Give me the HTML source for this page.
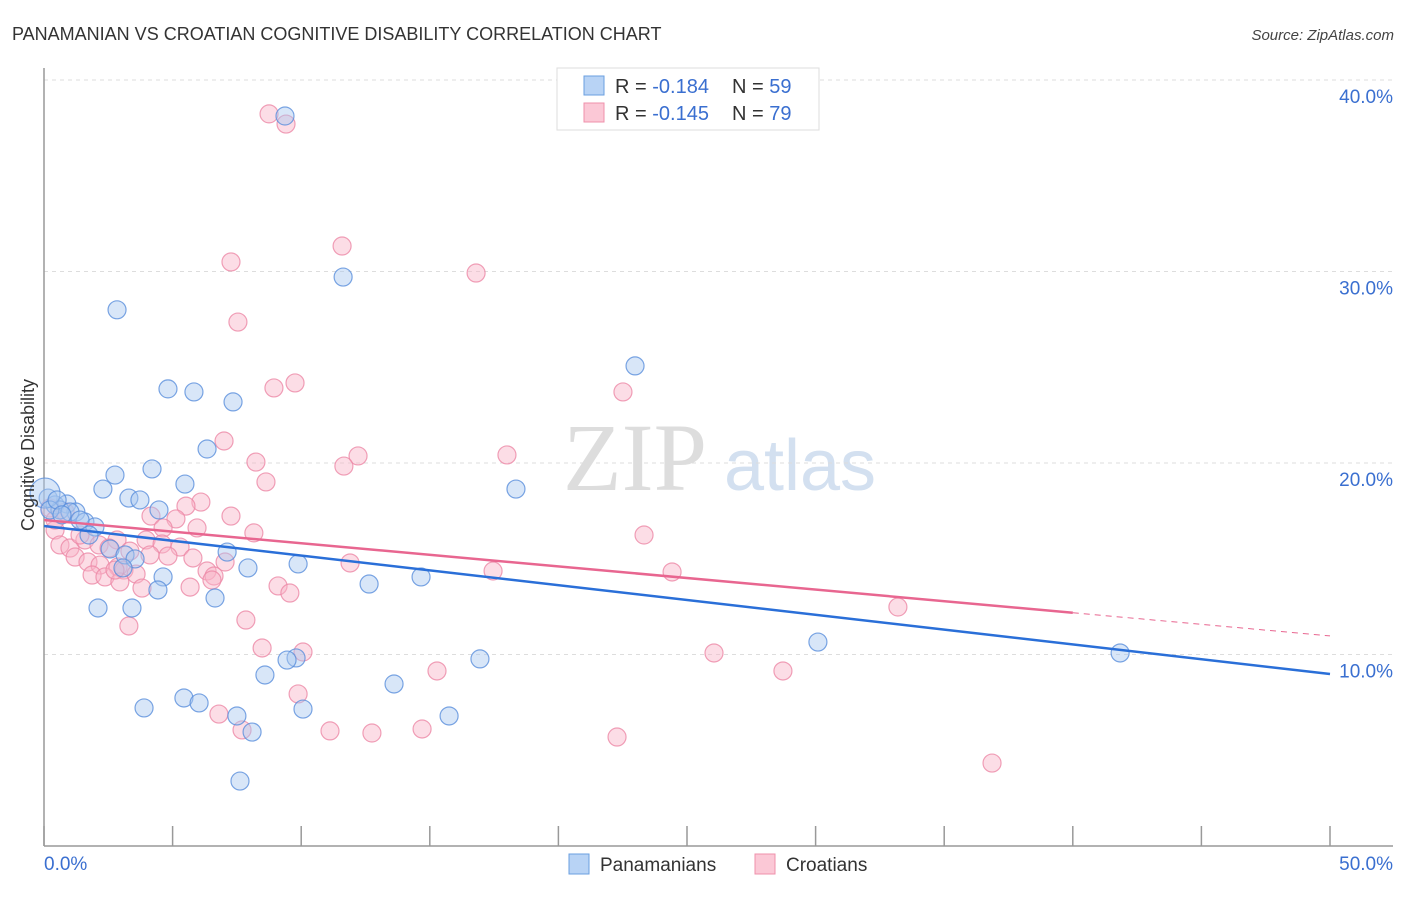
<!DOCTYPE html>
<html><head><meta charset="utf-8"><style>
body{margin:0;background:#fff;font-family:"Liberation Sans",sans-serif}
</style></head><body>
<svg id="chart" width="1406" height="892" xmlns="http://www.w3.org/2000/svg" font-family="Liberation Sans, sans-serif">
<text x="12" y="40" font-size="18" fill="#333">PANAMANIAN VS CROATIAN COGNITIVE DISABILITY CORRELATION CHART</text>
<text x="1394" y="40" font-size="15" fill="#444" text-anchor="end" font-style="italic">Source: ZipAtlas.com</text>
<g><text x="635" y="490" font-size="96" fill="#ddd" text-anchor="middle" font-family="Liberation Serif, serif">ZIP</text><text x="800" y="490" font-size="72" fill="#d3e0f0" text-anchor="middle">atlas</text></g>
<g id="grid"></g>
<g id="axes"></g>
<g id="marks"></g>
<text transform="translate(34,455) rotate(-90)" font-size="18" fill="#333" text-anchor="middle">Cognitive Disability</text>
<g>
<rect x="557" y="68" width="262" height="62" fill="#fff" stroke="#ddd"/>
<rect x="584" y="76" width="20" height="19" fill="#b8d3f5" stroke="#6a9fe0"/>
<rect x="584" y="103" width="20" height="19" fill="#fbc8d6" stroke="#ef90ab"/>
<text x="615" y="93" font-size="20" fill="#333">R = <tspan fill="#3a6fd0">-0.184</tspan><tspan x="732">N = </tspan><tspan fill="#3a6fd0">59</tspan></text>
<text x="615" y="120" font-size="20" fill="#333">R = <tspan fill="#3a6fd0">-0.145</tspan><tspan x="732">N = </tspan><tspan fill="#3a6fd0">79</tspan></text>
</g>
<g>
<rect x="569" y="854" width="20" height="20" fill="#b8d3f5" stroke="#6a9fe0"/>
<text x="600" y="871" font-size="19" fill="#333">Panamanians</text>
<rect x="755" y="854" width="20" height="20" fill="#fbc8d6" stroke="#ef90ab"/>
<text x="786" y="871" font-size="19" fill="#333">Croatians</text>
</g>
</svg>
<script>
const xTicks=[0,5,10,15,20,25,30,35,40,45,50];
const yTicks=[10,20,30,40];
const yTickLabels=["10.0%","20.0%","30.0%","40.0%"];
const xTickLabels=["0.0%","50.0%"];
const panX=[9.37,11.63,2.84,22.98,4.82,5.83,7.35,6.34,4.20,2.76,2.29,3.30,3.73,5.48,18.35,4.47,0.16,0.43,0.89,1.24,1.59,1.98,0.62,1.75,2.57,3.15,3.54,7.12,9.88,7.93,12.64,14.66,4.63,4.43,3.07,6.65,2.10,3.42,30.09,41.84,16.95,9.80,9.45,8.59,13.61,5.44,6.03,3.89,10.07,7.50,8.09,15.75,7.62,0.04,0.23,1.01,1.40,0.51,0.70];
const panY=[38.12,29.71,28.0,25.07,23.87,23.71,23.19,20.73,19.69,19.37,18.64,18.17,18.07,18.90,18.64,17.55,18.17,17.81,17.86,17.44,16.92,16.66,17.55,16.24,15.51,15.20,14.99,15.35,14.73,14.52,13.68,14.05,14.05,13.37,14.52,12.95,12.43,12.43,10.65,10.08,9.77,9.82,9.71,8.93,8.46,7.73,7.47,7.21,7.15,6.79,5.95,6.79,3.39,18.43,17.55,17.44,17.02,18.07,17.29];
const croX=[8.75,9.41,11.59,7.27,16.80,7.54,9.76,8.94,22.51,7.00,18.00,12.21,8.24,11.66,8.63,6.10,5.52,7.27,4.16,5.13,4.63,5.95,8.16,23.33,2.84,0.43,0.62,1.01,1.59,2.14,3.97,4.59,5.29,2.53,3.34,4.82,4.12,5.79,7.04,11.90,1.21,1.71,2.18,2.88,3.11,3.58,6.34,6.61,6.53,1.87,2.37,2.95,3.81,5.68,9.10,9.56,17.46,24.42,33.20,7.85,3.30,8.48,10.07,26.05,15.28,28.73,9.88,6.80,7.70,11.12,12.75,14.70,22.28,36.86,0.23,0.43,0.82,1.40,2.76];
const croY=[38.23,37.70,31.33,30.50,29.92,27.36,24.18,23.92,23.71,21.15,20.42,20.37,20.05,19.84,19.01,17.96,17.75,17.23,17.23,17.08,16.61,16.61,16.35,16.24,15.98,16.50,15.72,15.56,15.98,15.72,15.98,15.77,15.61,15.56,15.40,15.14,15.20,15.04,14.83,14.78,15.09,14.83,14.67,14.57,14.41,14.20,14.36,14.10,13.89,14.15,14.05,13.79,13.47,13.52,13.58,13.21,14.36,14.31,12.48,11.80,11.49,10.34,10.13,10.08,9.14,9.14,7.94,6.89,6.06,6.01,5.90,6.11,5.69,4.33,17.65,17.02,17.44,16.24,14.41];
const panTrend=[16.71,8.98];
const croTrend=[17.02,10.97];
const croSolidEnd=40;
const X=v=>44+v/50*1286, Y=v=>846-v/10*191.5;
const NS="http://www.w3.org/2000/svg";
function mk(parent,tag,attrs){const e=document.createElementNS(NS,tag);for(const k in attrs)e.setAttribute(k,attrs[k]);document.getElementById(parent).appendChild(e);return e;}
yTicks.forEach((t,i)=>{
 const g=mk('grid','line',{x1:44,x2:1393,y1:Y(t),y2:Y(t),stroke:'#ddd','stroke-dasharray':'4,4'});
 
 
 const l=mk('axes','text',{x:1393,y:Y(t)+23,'font-size':19,fill:'#3a6fd0','text-anchor':'end'});
 l.textContent=yTickLabels[i];
 
 
});
const a1=mk('axes','line',{x1:44,x2:44,y1:68,y2:846,stroke:'#999','stroke-width':1.5});


const a2=mk('axes','line',{x1:44,x2:1393,y1:846,y2:846,stroke:'#999','stroke-width':1.5});


xTicks.forEach(t=>{const l=mk('axes','line',{x1:X(t),x2:X(t),y1:826,y2:846,stroke:'#999','stroke-width':1.5});
 
 });
[[0,'start',44],[50,'end',1393]].forEach((d,i)=>{const l=mk('axes','text',{x:d[2],y:870,'font-size':19,fill:'#3a6fd0','text-anchor':d[1]});l.textContent=xTickLabels[i];
 
 });
function pts(xs,ys,fill,stroke,name){xs.forEach((x,i)=>{const big=(i===53&&name==='panamanian-point');
 const c=mk('marks','circle',{cx:X(x),cy:Y(ys[i]),r:big?15:9,fill:fill,'fill-opacity':0.45,stroke:stroke,'stroke-opacity':0.8,'stroke-width':1.2});
 
 });}
pts(croX,croY,'#f9b4c8','#ec88a6','croatian-point');
pts(panX,panY,'#a9c8f0','#5a8fdc','panamanian-point');
const croAt=v=>croTrend[0]+(croTrend[1]-croTrend[0])*v/50;
const t1=mk('marks','line',{x1:X(0),y1:Y(panTrend[0]),x2:X(50),y2:Y(panTrend[1]),stroke:'#2a6fd8','stroke-width':2.5});


const t2=mk('marks','line',{x1:X(0),y1:Y(croTrend[0]),x2:X(croSolidEnd),y2:Y(croAt(croSolidEnd)),stroke:'#e86690','stroke-width':2.5});


const t3=mk('marks','line',{x1:X(croSolidEnd),y1:Y(croAt(croSolidEnd)),x2:X(50),y2:Y(croTrend[1]),stroke:'#e86690','stroke-width':1,'stroke-dasharray':'6,5'});


</script>
</body></html>
